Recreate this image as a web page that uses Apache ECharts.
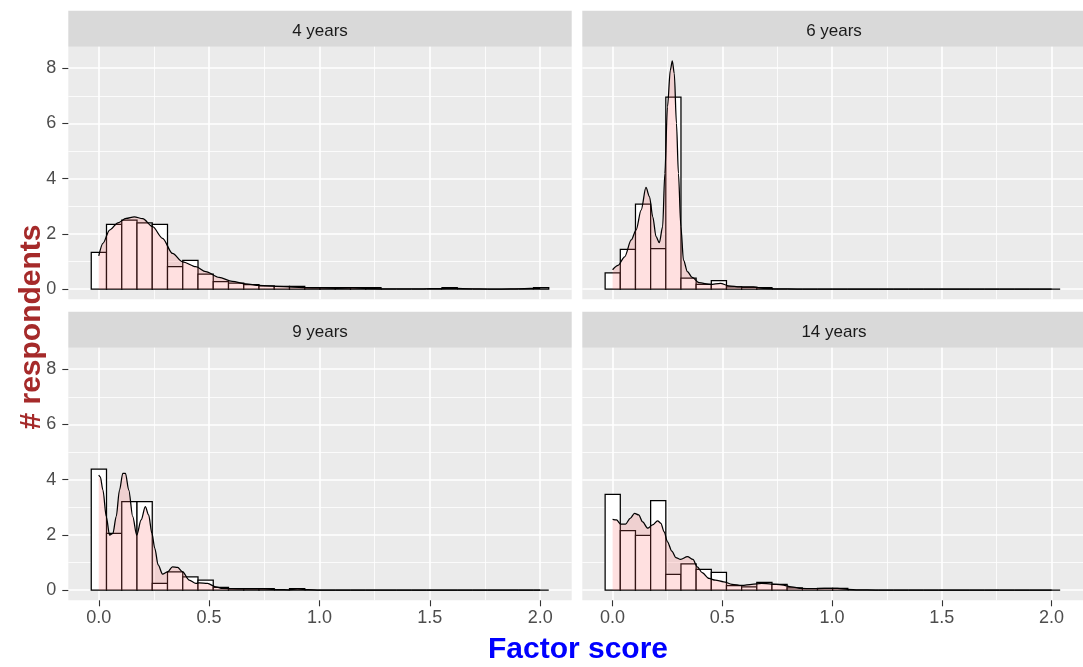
<!DOCTYPE html>
<html>
<head>
<meta charset="utf-8">
<script src="https://cdn.jsdelivr.net/npm/echarts@6/dist/echarts.min.js"></script>
<style>html,body{margin:0;padding:0;background:#fff;}#c{width:1083px;height:667px;}</style>
</head>
<body>
<div id="c"></div>
<script>
// ---- data ----
const panels = ['4 years', '6 years', '9 years', '14 years'];
const binStart = -0.034;
const binWidth = 0.0691;
const hist4  = [1.33, 2.34, 2.5, 2.4, 2.34, 0.81, 1.04, 0.54, 0.27, 0.22, 0.16, 0.12, 0.1, 0.1, 0.05, 0.05, 0.05, 0.05, 0.05, 0, 0, 0, 0, 0.05, 0, 0, 0, 0, 0, 0.05];
const hist6  = [0.59, 1.44, 3.08, 1.47, 6.95, 0.4, 0.17, 0.31, 0.08, 0.06, 0.05, 0, 0, 0, 0, 0, 0, 0, 0, 0, 0, 0, 0, 0, 0, 0, 0, 0, 0, 0];
const hist9  = [4.38, 2.05, 3.2, 3.2, 0.24, 0.66, 0.48, 0.36, 0.1, 0.05, 0.05, 0.05, 0, 0.05, 0, 0, 0, 0, 0, 0, 0, 0, 0, 0, 0, 0, 0, 0, 0, 0];
const hist14 = [3.47, 2.15, 1.98, 3.24, 0.57, 0.95, 0.75, 0.64, 0.16, 0.12, 0.28, 0.21, 0.08, 0, 0.06, 0.06, 0, 0, 0, 0, 0, 0, 0, 0, 0, 0, 0, 0, 0, 0];
const dens4 = [[0.0,1.2],[0.019,1.66],[0.049,2.14],[0.087,2.4],[0.124,2.56],[0.161,2.62],[0.199,2.55],[0.244,2.26],[0.289,1.84],[0.334,1.29],[0.38,0.99],[0.44,0.81],[0.485,0.63],[0.545,0.42],[0.605,0.28],[0.666,0.19],[0.726,0.13],[0.8,0.1],[0.876,0.07],[0.937,0.05],[1.0,0.04],[1.08,0.03],[1.15,0.04],[1.2,0.03],[1.3,0.01],[1.45,0.005],[1.55,0.02],[1.6,0.03],[1.65,0.02],[1.8,0.0],[1.93,0.02],[1.98,0.03],[2.0,0.03]];
const dens6 = [[0.0,0.7],[0.025,0.86],[0.055,1.17],[0.085,1.78],[0.107,2.14],[0.13,2.86],[0.152,3.68],[0.168,3.35],[0.183,2.62],[0.198,1.9],[0.213,1.68],[0.228,2.26],[0.238,4.19],[0.25,6.6],[0.263,7.93],[0.272,8.27],[0.281,7.81],[0.291,6.0],[0.3,4.19],[0.311,2.26],[0.323,1.05],[0.341,0.63],[0.363,0.42],[0.394,0.23],[0.446,0.17],[0.491,0.21],[0.529,0.12],[0.581,0.08],[0.642,0.08],[0.687,0.03],[0.75,0.01],[0.85,0],[2.0,0]];
const dens9 = [[0.0,4.17],[0.007,4.1],[0.019,3.62],[0.034,2.66],[0.049,1.99],[0.064,2.05],[0.079,2.66],[0.094,3.62],[0.109,4.23],[0.121,4.23],[0.136,3.62],[0.154,2.66],[0.172,1.99],[0.192,2.54],[0.211,3.02],[0.226,2.72],[0.241,2.05],[0.254,1.51],[0.269,0.91],[0.289,0.58],[0.312,0.66],[0.334,0.84],[0.357,0.82],[0.38,0.66],[0.41,0.36],[0.44,0.24],[0.455,0.26],[0.493,0.24],[0.53,0.12],[0.56,0.06],[0.65,0.04],[0.75,0.04],[0.82,0.02],[0.86,0.01],[0.9,0.04],[0.95,0.02],[1.0,0.0],[2.0,0]];
const dens14 = [[0.0,2.56],[0.018,2.54],[0.037,2.39],[0.059,2.39],[0.08,2.6],[0.1,2.78],[0.119,2.72],[0.137,2.47],[0.16,2.24],[0.182,2.36],[0.205,2.51],[0.22,2.42],[0.235,2.11],[0.25,1.75],[0.27,1.41],[0.288,1.18],[0.31,1.11],[0.341,1.21],[0.366,1.11],[0.386,0.84],[0.408,0.63],[0.439,0.42],[0.468,0.36],[0.506,0.3],[0.544,0.21],[0.589,0.17],[0.634,0.21],[0.679,0.24],[0.724,0.22],[0.77,0.19],[0.815,0.12],[0.86,0.06],[0.905,0.05],[0.965,0.06],[1.024,0.06],[1.071,0.03],[1.12,0.01],[1.2,0],[2.0,0]];
const xTicks = [0, 0.5, 1, 1.5, 2];
const xMinor = [0.25, 0.75, 1.25, 1.75];
const yTicks = [0, 2, 4, 6, 8];
const yMinor = [1, 3, 5, 7];
const xTitle = 'Factor score';
const yTitle = '# respondents';

// ---- layout ----
const hists = [hist4, hist6, hist9, hist14];
const denss = [dens4, dens6, dens9, dens14];
const PW = 503.4, PH = 252.6;
const lefts = [68.3, 582.3, 68.3, 582.3];
const tops = [46.7, 46.7, 347.7, 347.7];
const xRange = [-0.138, 2.143];
const yRange = [-0.37, 8.78];
const FONT = '"Liberation Sans", Arial, sans-serif';

const grid = [], xAxis = [], yAxis = [], series = [], graphic = [];
for (let g = 0; g < 4; g++) {
  grid.push({left: lefts[g], top: tops[g], width: PW, height: PH, backgroundColor: '#EBEBEB', show: true, borderWidth: 0});
  const bottomRow = g >= 2, leftCol = g % 2 === 0;
  xAxis.push({
    gridIndex: g, type: 'value', min: xRange[0], max: xRange[1], position: 'bottom',
    axisLine: {show: false, onZero: false},
    axisTick: {show: bottomRow, customValues: xTicks, length: 6, lineStyle: {color: '#333333', width: 1.1}},
    axisLabel: {show: bottomRow, customValues: xTicks, formatter: v => Number(v).toFixed(1), color: '#4D4D4D', fontSize: 18, fontFamily: FONT, margin: 9},
    splitLine: {show: true, lineStyle: {color: '#FFFFFF', width: 1.6}}
  });
  xAxis.push({
    gridIndex: g, type: 'value', min: xRange[0], max: xRange[1], position: 'bottom',
    axisLine: {show: false, onZero: false},
    axisTick: {show: false, customValues: xMinor},
    axisLabel: {show: false, customValues: xMinor},
    splitLine: {show: true, lineStyle: {color: '#FFFFFF', width: 0.8}}
  });
  yAxis.push({
    gridIndex: g, type: 'value', min: yRange[0], max: yRange[1], position: 'left',
    axisLine: {show: false, onZero: false},
    axisTick: {show: leftCol, customValues: yTicks, length: 6, lineStyle: {color: '#333333', width: 1.1}},
    axisLabel: {show: leftCol, customValues: yTicks, formatter: v => String(Math.round(v)), color: '#4D4D4D', fontSize: 18, fontFamily: FONT, margin: 12},
    splitLine: {show: true, lineStyle: {color: '#FFFFFF', width: 1.6}}
  });
  yAxis.push({
    gridIndex: g, type: 'value', min: yRange[0], max: yRange[1], position: 'left',
    axisLine: {show: false, onZero: false},
    axisTick: {show: false, customValues: yMinor},
    axisLabel: {show: false, customValues: yMinor},
    splitLine: {show: true, lineStyle: {color: '#FFFFFF', width: 0.8}}
  });
  const binData = hists[g].map((h, k) => [binStart + k * binWidth, binStart + (k + 1) * binWidth, h]);
  series.push({
    type: 'custom', xAxisIndex: 2 * g, yAxisIndex: 2 * g, z: 2, silent: true,
    data: binData, encode: {x: [0, 1], y: 2},
    renderItem: function (params, api) {
      const a = api.coord([api.value(0), api.value(2)]);
      const b = api.coord([api.value(1), 0]);
      return {type: 'rect', shape: {x: a[0], y: a[1], width: b[0] - a[0], height: b[1] - a[1]},
        style: {fill: '#FFFFFF', stroke: '#000000', lineWidth: 1.25}};
    }
  });
  series.push({
    type: 'line', xAxisIndex: 2 * g, yAxisIndex: 2 * g, z: 3, silent: true,
    data: denss[g], showSymbol: false, symbol: 'none', smooth: 0.3, smoothMonotone: 'x',
    lineStyle: {color: '#000000', width: 1.25},
    areaStyle: {color: 'rgba(255,102,102,0.2)', opacity: 1, origin: 'auto'}
  });
  // facet strip
  graphic.push({type: 'rect', left: lefts[g], top: tops[g] - 36, shape: {width: PW, height: 36}, style: {fill: '#D9D9D9'}, silent: true});
  graphic.push({type: 'text', x: lefts[g] + PW / 2, y: tops[g] - 15,
    style: {text: panels[g], fill: '#1A1A1A', fontSize: 17, fontFamily: FONT, align: 'center', verticalAlign: 'middle'}, silent: true});
}
graphic.push({type: 'text', x: 578, y: 650, style: {text: xTitle, fill: '#0000FF', fontSize: 30, fontWeight: 'bold', fontFamily: FONT, align: 'center', verticalAlign: 'middle'}});
graphic.push({type: 'text', x: 32, y: 327, rotation: Math.PI / 2, style: {text: yTitle, fill: '#A52A2A', fontSize: 30, fontWeight: 'bold', fontFamily: FONT, align: 'center', verticalAlign: 'middle'}});

const chart = echarts.init(document.getElementById('c'), null, {renderer: 'canvas'});
chart.setOption({backgroundColor: '#FFFFFF', animation: false, grid, xAxis, yAxis, series, graphic});
</script>
</body>
</html>
